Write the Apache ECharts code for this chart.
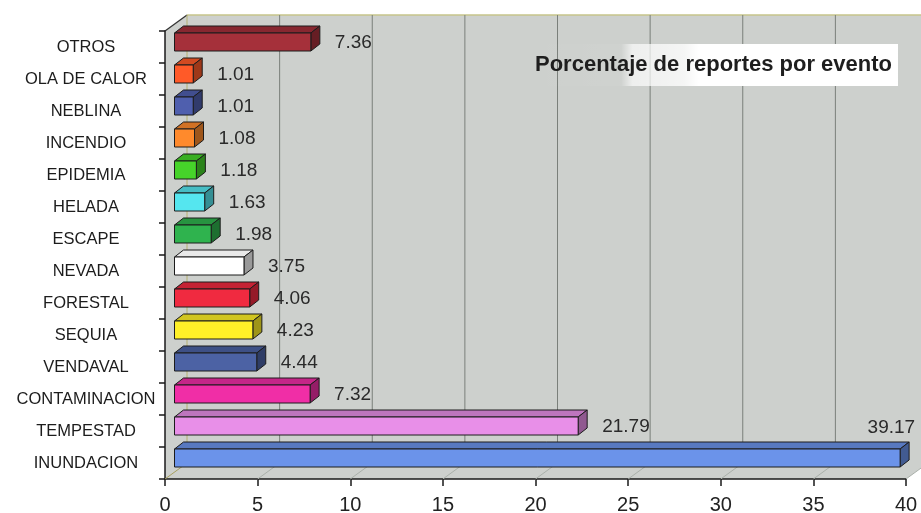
<!DOCTYPE html>
<html><head><meta charset="utf-8">
<script src="https://cdn.jsdelivr.net/npm/echarts@6/dist/echarts.min.js"></script>
<style>html,body{margin:0;padding:0;background:#fff}#c{width:921px;height:513px}</style>
</head><body><div id="c"></div>
<script>
// ---- data (top to bottom as in the picture) ----
const categories = ['OTROS','OLA DE CALOR','NEBLINA','INCENDIO','EPIDEMIA','HELADA','ESCAPE','NEVADA','FORESTAL','SEQUIA','VENDAVAL','CONTAMINACION','TEMPESTAD','INUNDACION'];
const values = [7.36,1.01,1.01,1.08,1.18,1.63,1.98,3.75,4.06,4.23,4.44,7.32,21.79,39.17];
const barColors = ['#a5303a','#ff5a28','#4f5fae','#ff8a2c','#46d42a','#55e6ef','#2fb34e','#ffffff','#f02a40','#fff028','#4c62a4','#f02ea6','#e88fe8','#6b93ea'];
const xTicks = [0,5,10,15,20,25,30,35,40];
const titleText = 'Porcentaje de reportes por evento';

// ---- style constants ----
const FONT = '"Liberation Sans", Arial, Helvetica, sans-serif';
const DX = 22, DY = -16;   // wall depth
const BX = 9, BY = -7;     // bar depth
const BAR_SHIFT = 9.5;     // bar front face offset from front plane

function shade(hex, f) {
  const n = parseInt(hex.slice(1), 16);
  const r = Math.round(((n >> 16) & 255) * f), g = Math.round(((n >> 8) & 255) * f), b = Math.round((n & 255) * f);
  return 'rgb(' + r + ',' + g + ',' + b + ')';
}

const chart = echarts.init(document.getElementById('c'), null, {renderer: 'canvas'});
chart.setOption({
  animation: false,
  backgroundColor: '#ffffff',
  title: {
    text: titleText,
    left: 529, top: 44,
    padding: [10, 6, 10, 6],
    backgroundColor: {type: 'linear', x: 0, y: 0, x2: 1, y2: 0, colorStops: [
      {offset: 0, color: 'rgba(255,255,255,0)'},
      {offset: 0.25, color: 'rgba(255,255,255,0.05)'},
      {offset: 0.28, color: 'rgba(255,255,255,0.65)'},
      {offset: 0.42, color: 'rgba(255,255,255,0.8)'},
      {offset: 0.46, color: '#ffffff'},
      {offset: 1, color: '#ffffff'}]},
    textStyle: {fontSize: 22, fontWeight: 'bold', color: '#1e1e1e', fontFamily: FONT}
  },
  grid: {left: 165, right: 15, top: 31, bottom: 34, containLabel: false, outerBoundsMode: 'none'},
  xAxis: {
    type: 'value', min: 0, max: 40, interval: 5,
    axisLine: {show: true, lineStyle: {color: '#1a1a1a', width: 1.5}},
    axisTick: {show: true, length: 7, lineStyle: {color: '#1a1a1a', width: 1.5}},
    axisLabel: {fontSize: 20, color: '#222', fontFamily: FONT, margin: 16, showMaxLabel: true, showMinLabel: true},
    splitLine: {show: false}
  },
  yAxis: {
    type: 'category', inverse: true, data: categories,
    axisLine: {show: true, lineStyle: {color: '#1a1a1a', width: 1.5}},
    axisTick: {show: true, length: 6, lineStyle: {color: '#1a1a1a', width: 1.5}},
    axisLabel: {fontSize: 16.5, color: '#1c1c1c', fontFamily: FONT, align: 'center', margin: 79},
    splitLine: {show: false}
  },
  series: [
    { // walls and floor
      type: 'custom', z: 0, clip: false, silent: true,
      data: [[0, 0]],
      renderItem: function (params, api) {
        const cs = params.coordSys;
        const x0 = cs.x, y0 = cs.y, xR = cs.x + cs.width, yB = cs.y + cs.height;
        return {type: 'group', children: [
          {type: 'polygon', shape: {points: [[x0, y0], [x0 + DX, y0 + DY], [xR + DX + 40, y0 + DY], [xR + DX + 40, yB + DY], [xR + DX, yB + DY], [xR, yB], [x0, yB]]},
            style: {fill: '#cdd0cd', stroke: null}},
          {type: 'line', shape: {x1: x0 + DX, y1: y0 + DY, x2: xR + DX + 40, y2: y0 + DY}, style: {stroke: '#c6c48a', lineWidth: 1.5}},
          {type: 'line', shape: {x1: x0, y1: y0, x2: x0 + DX, y2: y0 + DY}, style: {stroke: '#333', lineWidth: 1.2}}
        ]};
      }
    },
    { // back-wall grid lines and floor diagonals
      type: 'custom', z: 1, clip: false, silent: true,
      data: xTicks.map(function (v) { return [v, 0]; }),
      renderItem: function (params, api) {
        const cs = params.coordSys;
        const y0 = cs.y, yB = cs.y + cs.height;
        const x = api.coord([api.value(0), 0])[0];
        const isZero = api.value(0) === 0;
        return {type: 'group', children: [
          {type: 'line', shape: {x1: x + DX, y1: y0 + DY, x2: x + DX, y2: yB + DY}, style: {stroke: isZero ? '#b5b070' : '#7a7f7a', lineWidth: 1}},
          {type: 'line', shape: {x1: x, y1: yB, x2: x + DX, y2: yB + DY}, style: {stroke: isZero ? '#a8a060' : '#aab0aa', lineWidth: 1}}
        ]};
      }
    },
    { // 3D bars
      type: 'custom', z: 2, clip: false,
      encode: {x: 0, y: 1},
      data: values.map(function (v, i) { return [v, i]; }),
      renderItem: function (params, api) {
        const cs = params.coordSys;
        const v = api.value(0), i = api.value(1);
        const p0 = api.coord([0, i]), p1 = api.coord([v, i]);
        const cy = p0[1];
        const xa = p0[0] + BAR_SHIFT, xb = p1[0] + BAR_SHIFT;
        const yt = cy - 14, yb = cy + 4;
        const col = barColors[i];
        const edge = {stroke: '#1c1c1c', lineWidth: 1};
        const sideEnd = xb + BX;
        let label;
        if (sideEnd + 60 > cs.x + cs.width) {
          label = {type: 'text', x: sideEnd + 6, y: yt + BY - 5,
            style: {text: v.toFixed(2), fill: '#2a2a2a', fontSize: 19, fontFamily: FONT, align: 'right', verticalAlign: 'bottom'}};
        } else {
          label = {type: 'text', x: sideEnd + 15, y: cy - 4,
            style: {text: v.toFixed(2), fill: '#2a2a2a', fontSize: 19, fontFamily: FONT, align: 'left', verticalAlign: 'middle'}};
        }
        return {type: 'group', children: [
          {type: 'polygon', shape: {points: [[xa, yt], [xb, yt], [xb + BX, yt + BY], [xa + BX, yt + BY]]},
            style: Object.assign({fill: shade(col === '#ffffff' ? '#f0f0f0' : col, col === '#ffffff' ? 0.97 : 0.82)}, edge)},
          {type: 'polygon', shape: {points: [[xb, yt], [xb + BX, yt + BY], [xb + BX, yb + BY], [xb, yb]]},
            style: Object.assign({fill: shade(col, col === '#ffffff' ? 0.6 : 0.62)}, edge)},
          {type: 'rect', shape: {x: xa, y: yt, width: xb - xa, height: yb - yt},
            style: Object.assign({fill: col}, edge)},
          label
        ]};
      }
    }
  ]
});
</script>
</body></html>
